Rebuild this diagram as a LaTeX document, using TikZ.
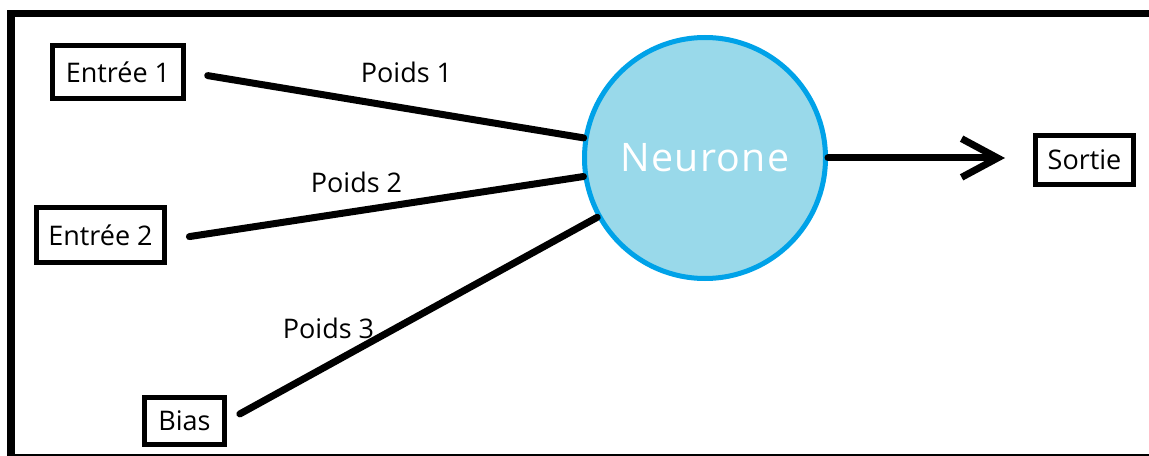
\documentclass[tikz,border=0pt]{standalone}
\usepackage{fontspec}
\setmainfont{Open Sans}
\newfontfamily\neuronefont[LetterSpace=3]{Open Sans}
\usetikzlibrary{arrows.meta}
\definecolor{bleuclair}{HTML}{99D9EA}
\definecolor{bleu}{HTML}{00A2E8}

\begin{document}
\begin{tikzpicture}[x=0.75pt, y=-0.75pt,
		boite/.style={draw, line width=3.75pt, inner sep=0pt, font=\fontsize{20.25}{24}\selectfont},
		lien/.style={line width=5.25pt, line cap=round},
		poids/.style={anchor=base, inner sep=0pt, font=\fontsize{20.25}{24}\selectfont}]
			%%%%% START %%%%%
			
			\useasboundingbox (0, 0) rectangle (1149, 456);
			
			% cadre
			\draw[line width=5.6pt] (11, 460) |- (1152, 13.5);
			\draw[line width=1.6pt] (11, 455) -- (1152, 455);
			
			\node[boite, minimum width=98.25pt, minimum height=39.75pt] (e1) at (118, 72) {Entrée 1};
			\node[boite, minimum width=96pt, minimum height=41.25pt] (e2) at (100.5, 235) {Entrée 2};
			\node[boite, minimum width=60pt, minimum height=35.25pt] (bias) at (184.5, 421) {Bias};
			\node[boite, minimum width=73.5pt, minimum height=36.75pt] (sortie) at (1084.5, 160) {Sortie};
			
			\node[circle, draw=bleu, fill=bleuclair, line width=3.75pt, minimum size=180.75pt,
				text=white, font=\neuronefont\fontsize{29.5}{34}\selectfont] (neurone) at (705, 158) {Neurone};
			
			\draw[lien, shorten <=16.5pt] (e1.east) -- (neurone);
			\draw[lien, shorten <=17pt] ([yshift=-3.75pt]e2.east) -- (neurone);
			\draw[lien, shorten <=11pt] (bias.east) -- (neurone);
			\draw[lien, -{Straight Barb[length=27pt, width=29pt]}, shorten >=21pt] (neurone.east) -- (neurone.east -| sortie.west);
			
			\node[poids] (p1) at (406.5, 83) {Poids 1};
			\node[poids] (p2) at (356.5, 193) {Poids 2};
			\node[poids] (p3) at (328.5, 338) {Poids 3};
			
			%%%%% END %%%%%
\end{tikzpicture}
\end{document}
